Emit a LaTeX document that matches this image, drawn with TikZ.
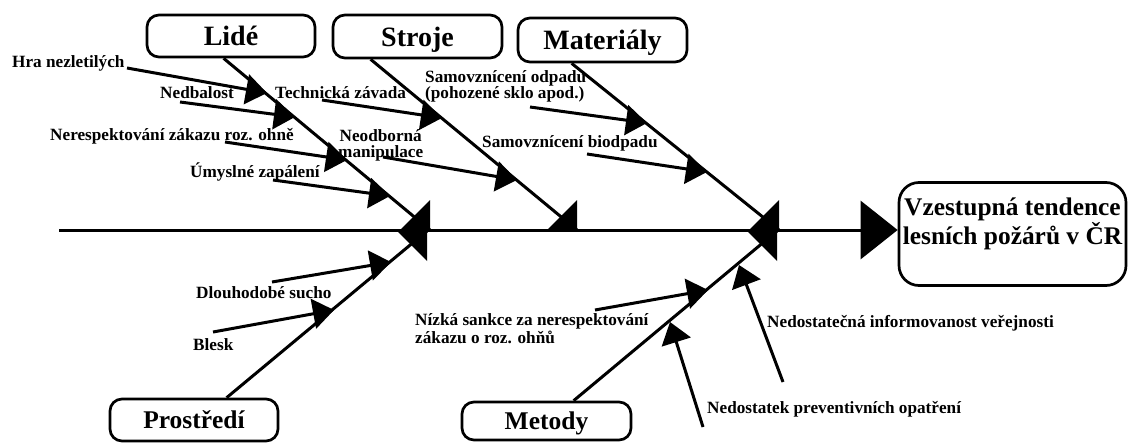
\documentclass[tikz,border=0pt]{standalone}
\usepackage{fontspec}
\setmainfont{Liberation Serif}
\usetikzlibrary{arrows.meta,calc}
\begin{document}
\begin{tikzpicture}[x=1pt,y=-1pt,
  catbox/.style={draw, line width=2.7pt, rounded corners=12pt, inner sep=0pt,
    text height=19pt, text depth=0pt, font=\fontsize{28}{28}\selectfont\bfseries},
  lowbox/.style={catbox, text height=17pt, font=\fontsize{25.5}{25.5}\selectfont\bfseries},
  lbl/.style={inner sep=0pt, anchor=base west, font=\fontsize{17.2}{16}\selectfont\bfseries, align=left},
  bone/.style={line width=3pt},
  sub/.style={line width=3pt, -{Triangle[length=21pt,width=30pt]}},
]
\useasboundingbox (0,0) rectangle (1129,442);

% category boxes
\node[catbox, minimum width=168pt, minimum height=42pt] (lide) at (231,36) {Lidé};
\node[catbox, minimum width=169pt, minimum height=43pt] (stroje) at (417.5,36.5) {Stroje};
\node[catbox, minimum width=169pt, minimum height=44pt] (mat) at (602.5,40) {Materiály};
\node[lowbox, minimum width=168pt, minimum height=42pt] (prost) at (194,420) {Prostředí};
\node[lowbox, minimum width=169pt, minimum height=38pt] (metody) at (546.5,421) {Metody};

% goal box
\node[draw, line width=2.7pt, rounded corners=20pt, minimum width=227pt, minimum height=103pt,
  inner sep=0pt, font=\fontsize{25.4}{25}\selectfont\bfseries] (goal) at (1012.5,234)
  {\raisebox{9pt}[\height][\depth]{\begin{tabular}{@{}c@{}}Vzestupná tendence\\lesních požárů v ČR\end{tabular}}};

% spine
\coordinate (sp0) at (59,230);
\draw[bone, -{Triangle[length=37pt,width=58pt]}] (sp0) -- (sp0 -| goal.west);

% main bone tips
\coordinate (tL) at (430,230);
\coordinate (tS) at (577,230);
\coordinate (tM) at (779,230);
\coordinate (tP) at (427,231);
\coordinate (tMe) at (777,231);

\draw[bone] (lide.south west) ++(78,0) -- (tL);
\draw[bone] (stroje.south west) ++(39,0) -- (tS);
\draw[bone] (mat.south west) ++(55,0) -- (tM);
\draw[bone] (prost.north west) ++(118,0) -- (tP);
\draw[bone] (metody.north west) ++(113,0) -- (tMe);

\fill (tL) -- ++(0,-30) -- ++(-30,30) -- cycle;
\fill (tS) -- ++(0,-30) -- ++(-30,30) -- cycle;
\fill (tM) -- ++(0,-30) -- ++(-30,30) -- cycle;
\fill (tP) -- ++(-30,0) -- ++(30,30) -- cycle;
\fill (tMe) -- ++(-30,0) -- ++(30,30) -- cycle;

% labels (base = baseline of last line)
\node[lbl] (hra) at (12,67) {Hra nezletilých};
\node[lbl] (nedb) at (160,98) {Nedbalost};
\node[lbl] (nere) at (50,140) {Nerespektování zákazu roz. ohně};
\node[lbl] (umys) at (190,177) {Úmyslné zapálení};
\node[lbl] (tech) at (275,98) {Technická závada};
\node[lbl, align=center] (neod) at (338,157) {Neodborná\\manipulace};
\node[lbl] (odp) at (425,98) {Samovznícení odpadu\\(pohozené sklo apod.)};
\node[lbl] (bio) at (482,147) {Samovznícení biodpadu};
\node[lbl] (sucho) at (196,298) {Dlouhodobé sucho};
\node[lbl] (blesk) at (193,350) {Blesk};
\node[lbl] (nizka) at (415,343) {Nízká sankce za nerespektování\\zákazu o roz. ohňů};
\node[lbl] (nedst) at (707,413) {Nedostatek preventivních opatření};
\node[lbl] (info) at (767,327) {Nedostatečná informovanost veřejnosti};

% sub-cause arrows
\coordinate (sHra) at (127,68);   \coordinate (aHra) at (267,93);
\coordinate (sNed) at (180,102);  \coordinate (aNed) at (295,117);
\coordinate (sNer) at (225,142);  \coordinate (aNer) at (347,160);
\coordinate (sUmy) at (273,180);  \coordinate (aUmy) at (390,196);
\coordinate (sTec) at (322,100);  \coordinate (aTec) at (442,118);
\coordinate (sNeo) at (383,157);  \coordinate (aNeo) at (517,180);
\coordinate (sOdp) at (530,107);  \coordinate (aOdp) at (647,123);
\coordinate (sBio) at (587,154);  \coordinate (aBio) at (707,172);
\coordinate (sSuc) at (272,282);  \coordinate (aSuc) at (391,262);
\coordinate (sBle) at (213,332);  \coordinate (aBle) at (334,310);
\coordinate (sNiz) at (595,310);  \coordinate (aNiz) at (708,290);
\coordinate (sNds) at (703,427);  \coordinate (aNds) at (670,322);
\coordinate (sInf) at (783,382);  \coordinate (aInf) at (739,265);

\draw[sub] (sHra) -- (aHra);
\draw[sub] (sNed) -- (aNed);
\draw[sub] (sNer) -- (aNer);
\draw[sub] (sUmy) -- (aUmy);
\draw[sub] (sTec) -- (aTec);
\draw[sub] (sNeo) -- (aNeo);
\draw[sub] (sOdp) -- (aOdp);
\draw[sub] (sBio) -- (aBio);
\draw[sub] (sSuc) -- (aSuc);
\draw[sub] (sBle) -- (aBle);
\draw[sub] (sNiz) -- (aNiz);
\draw[sub] (sNds) -- (aNds);
\draw[sub] (sInf) -- (aInf);
\end{tikzpicture}
\end{document}
